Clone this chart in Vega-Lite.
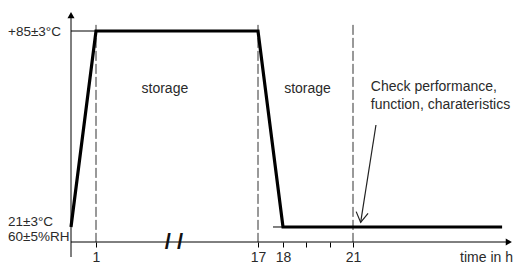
{
  "$schema": "https://vega.github.io/schema/vega-lite/v6.json",
  "width": 442,
  "height": 232,
  "autosize": {"type": "none"},
  "padding": {"left": 71, "top": 10, "right": 4, "bottom": 24},
  "background": "white",
  "config": {"view": {"stroke": null}, "font": "Liberation Sans", "text": {"font": "Liberation Sans", "fontSize": 14, "color": "#2a2a2a"}},
  "datasets": {
    "profile": [
      {"t": 0, "temp": 21},
      {"t": 1, "temp": 85},
      {"t": 17, "temp": 85},
      {"t": 18, "temp": 21},
      {"t": 27.43, "temp": 21}
    ],
    "thin": [
      {"t": 0, "t2": 1, "temp": 85},
      {"t": 17.6, "t2": 18, "temp": 21}
    ],
    "checks": [{"t": 1}, {"t": 17}, {"t": 21}],
    "notes": [
      {"t": 7.8, "temp": 66.2, "label": "storage"},
      {"t": 19.05, "temp": 66.2, "label": "storage"}
    ],
    "check": [
      {"t": 21.77, "temp": 66.7, "label": "Check performance,"},
      {"t": 21.77, "temp": 60.8, "label": "function, charateristics"}
    ],
    "ylabels": [
      {"temp": 84.6, "label": "+85±3°C"},
      {"temp": 22.6, "label": "21±3°C"},
      {"temp": 17.6, "label": "60±5%RH"}
    ],
    "pointer": [{"t": 21.99, "temp": 54.3, "t2": 21.33, "temp2": 22.5}],
    "one": [{}]
  },
  "layer": [
    {
      "data": {"name": "checks"},
      "mark": {"type": "rule", "color": "#333", "strokeWidth": 1, "strokeDash": [10, 3]},
      "encoding": {
        "x": {"field": "t", "type": "quantitative", "scale": {"domain": [0, 1, 17, 18, 21, 27.9], "range": [0, 25, 187, 212, 282, 442], "nice": false, "zero": false},
          "axis": {"values": [1, 17, 18, 19, 20, 21], "labelExpr": "datum.value == 19 || datum.value == 20 ? '' : datum.label", "tickSize": 5, "tickColor": "#000", "domain": false, "labelFontSize": 14, "labelColor": "#2a2a2a", "labelFont": "Liberation Sans", "labelPadding": 3, "grid": false, "title": null}},
        "y": {"datum": 87, "scale": {"domain": [16.1, 91.86], "nice": false, "zero": false}, "axis": null},
        "y2": {"datum": 16.1}
      }
    },
    {
      "data": {"name": "one"},
      "mark": {"type": "rule", "color": "#000", "strokeWidth": 1},
      "encoding": {
        "x": {"datum": 0},
        "x2": {"datum": 27.7},
        "y": {"datum": 16.1}
      }
    },
    {
      "data": {"name": "thin"},
      "mark": {"type": "rule", "color": "#000", "strokeWidth": 1},
      "encoding": {
        "x": {"field": "t", "type": "quantitative"},
        "x2": {"field": "t2"},
        "y": {"field": "temp", "type": "quantitative"}
      }
    },
    {
      "data": {"name": "profile"},
      "mark": {"type": "line", "color": "#000", "strokeWidth": 3.2, "strokeJoin": "miter"},
      "encoding": {
        "x": {"field": "t", "type": "quantitative"},
        "y": {"field": "temp", "type": "quantitative"}
      }
    },
    {
      "data": {"name": "one"},
      "mark": {"type": "rule", "color": "#000", "strokeWidth": 1},
      "encoding": {
        "x": {"datum": 0},
        "y": {"datum": 90.5},
        "y2": {"datum": 11.2}
      }
    },
    {
      "data": {"name": "one"},
      "mark": {"type": "point", "shape": "triangle-up", "filled": true, "color": "#000", "size": 50, "opacity": 1},
      "encoding": {
        "x": {"datum": 0},
        "y": {"datum": 90.2}
      }
    },
    {
      "data": {"name": "one"},
      "mark": {"type": "point", "shape": "triangle-right", "filled": true, "color": "#000", "size": 50, "opacity": 1},
      "encoding": {
        "x": {"datum": 27.72},
        "y": {"datum": 16.1}
      }
    },
    {
      "data": {"name": "notes"},
      "mark": {"type": "text", "align": "center", "baseline": "middle"},
      "encoding": {
        "x": {"field": "t", "type": "quantitative"},
        "y": {"field": "temp", "type": "quantitative"},
        "text": {"field": "label"}
      }
    },
    {
      "data": {"name": "check"},
      "mark": {"type": "text", "align": "left", "baseline": "middle"},
      "encoding": {
        "x": {"field": "t", "type": "quantitative"},
        "y": {"field": "temp", "type": "quantitative"},
        "text": {"field": "label"}
      }
    },
    {
      "data": {"name": "ylabels"},
      "mark": {"type": "text", "align": "left", "baseline": "middle", "dx": -63, "fontSize": 13.5},
      "encoding": {
        "x": {"datum": 0},
        "y": {"field": "temp", "type": "quantitative"},
        "text": {"field": "label"}
      }
    },
    {
      "data": {"name": "one"},
      "mark": {"type": "text", "align": "right", "baseline": "middle", "text": "time in h"},
      "encoding": {
        "x": {"datum": 27.9},
        "y": {"datum": 10.9}
      }
    },
    {
      "data": {"name": "one"},
      "mark": {"type": "text", "align": "center", "baseline": "middle", "text": "/ /", "fontSize": 22, "fontWeight": "bold", "color": "#111"},
      "encoding": {
        "x": {"datum": 8.7},
        "y": {"datum": 16.1}
      }
    },
    {
      "data": {"name": "pointer"},
      "mark": {"type": "rule", "color": "#222", "strokeWidth": 1.2},
      "encoding": {
        "x": {"field": "t", "type": "quantitative"},
        "y": {"field": "temp", "type": "quantitative"},
        "x2": {"field": "t2"},
        "y2": {"field": "temp2"}
      }
    },
    {
      "data": {"name": "pointer"},
      "mark": {"type": "point", "shape": "M-0.6,-1L0,0L0.6,-1", "filled": false, "color": "#222", "strokeWidth": 1.2, "size": 400, "angle": 8.4, "opacity": 1},
      "encoding": {
        "x": {"field": "t2", "type": "quantitative"},
        "y": {"field": "temp2", "type": "quantitative"}
      }
    }
  ]
}
